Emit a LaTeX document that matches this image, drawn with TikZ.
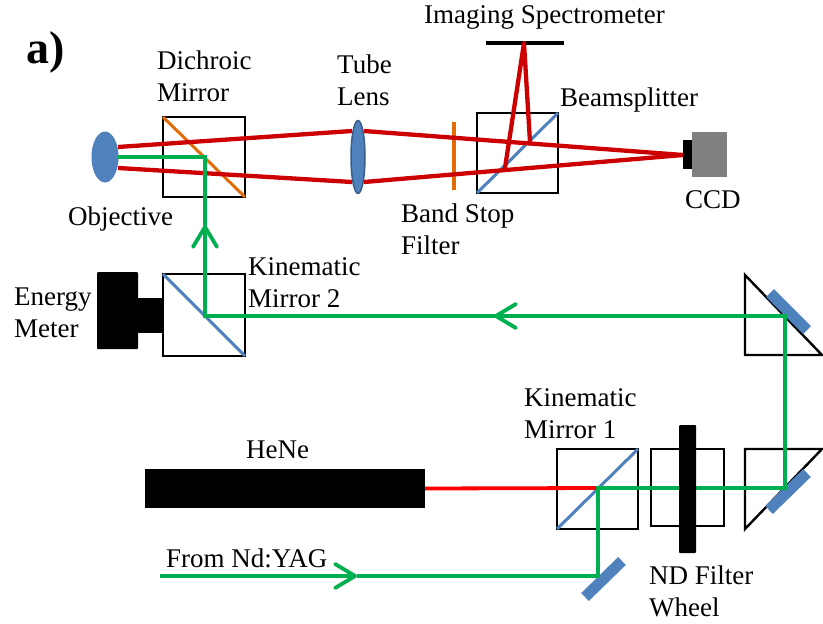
\documentclass[tikz,border=0pt]{standalone}
\usepackage{fontspec}
\setmainfont{Liberation Serif}
\usetikzlibrary{arrows.meta,shapes.geometric}
\definecolor{mirrorblue}{HTML}{4F81BD}
\definecolor{lensblue}{HTML}{385D8A}
\definecolor{filterorange}{HTML}{E36C09}
\definecolor{rayred}{HTML}{CC0000}
\definecolor{rayyag}{HTML}{00B050}
\tikzset{
    opticbox/.style={draw=black,line width=2.4pt,outer sep=0pt,inner sep=0pt},
    solidblock/.style={fill=black,rounded corners=1pt,outer sep=0pt,inner sep=0pt},
    partlabel/.style={anchor=west,align=left,inner sep=0pt,font=\fontsize{27}{32}\selectfont},
    redray/.style={draw=rayred,line width=4.3pt,line join=round},
    greenray/.style={draw=rayyag,line width=3.8pt,line join=miter},
    splitter/.style={draw=mirrorblue,line width=3pt},
    flatmirror/.style={draw=mirrorblue,line width=11pt},
    rayhead/.style={-{Straight Barb[length=20pt,width=24pt,line width=3.8pt,round]}}
}
\begin{document}
\begin{tikzpicture}[x=1pt,y=-1pt]
        \useasboundingbox (0,0) rectangle (823,624);
        \node [opticbox,minimum width=82pt,minimum height=80pt] (dichroic) at (204,157) {};
        \node [opticbox,minimum width=81pt,minimum height=80pt] (beamsplit) at (517.5,153) {};
        \node [opticbox,minimum width=82pt,minimum height=82pt] (kinb) at (204,315) {};
        \node [opticbox,minimum width=81pt,minimum height=80pt] (kina) at (597.5,489) {};
        \node [opticbox,minimum width=73pt,minimum height=77pt] (ndbox) at (687.5,487.5) {};
        \draw [line width=2.4pt,line join=miter] (745,275) -- (822,355) -- (745,355) -- cycle;
        \draw [line width=2.4pt,line join=miter] (745,449) -- (822,449) -- (745,529) -- cycle;
        \draw [draw=filterorange,line width=3pt] (dichroic.north west) -- (dichroic.south east);
        \draw [splitter] (beamsplit.south west) -- (beamsplit.north east);
        \draw [splitter] (kinb.north west) -- (kinb.south east);
        \draw [splitter] (kina.south west) -- (kina.north east);
        \draw [flatmirror] (770,293) -- (807,330);
        \draw [flatmirror] (769,510) -- (807,473);
        \draw [flatmirror] (585,597) -- (622,561);
        \node [ellipse,fill=mirrorblue,inner sep=0pt,outer sep=0pt,minimum width=27pt,minimum height=51pt] (objective) at (105,157) {};
        \node [ellipse,fill=mirrorblue,draw=lensblue,line width=1.5pt,inner sep=0pt,outer sep=0pt,minimum width=14pt,minimum height=73pt] (tubelens) at (358,157) {};
        \node [fill=black,minimum width=78pt,minimum height=4.5pt,inner sep=0pt,outer sep=0pt] (spectro) at (525,43) {};
        \node [fill=black,minimum width=9pt,minimum height=29pt,inner sep=0pt,outer sep=0pt] (ccdfront) at (687.5,154.5) {};
        \node [fill=black!50,minimum width=35pt,minimum height=45pt,inner sep=0pt,outer sep=0pt,anchor=west] (ccd) at (ccdfront.east) {};
        \node [solidblock,minimum width=41pt,minimum height=77pt] (meter) at (117.5,310.5) {};
        \node [fill=black,minimum width=26pt,minimum height=35pt,inner sep=0pt,outer sep=0pt,anchor=east] (meterneck) at (kinb.west) {};
        \node [fill=black,minimum width=280pt,minimum height=39pt,inner sep=0pt,outer sep=0pt] (hene) at (285,488.5) {};
        \draw [draw=filterorange,line width=3.4pt] (454,122) -- (454,190);
        \coordinate (lensup) at (352,131);
        \coordinate (lensupb) at (364,131);
        \coordinate (lensdn) at (352,182);
        \coordinate (lensdnb) at (364,182);
        \coordinate (focus) at (683,155);
        \coordinate (splitup) at (530,142);
        \coordinate (splitdn) at (505,168);
        \coordinate (grating) at (524,43);
        \draw [redray] (118,147) -- (lensup);
        \draw [redray] (118,168) -- (lensdn);
        \draw [redray] (lensupb) -- (focus);
        \draw [redray] (lensdnb) -- (focus);
        \draw [redray] (splitdn) -- (grating) -- (splitup);
        \coordinate (turnkina) at (598,488);
        \coordinate (turnyag) at (598,576);
        \coordinate (startyag) at (160,576);
        \coordinate (midyag) at (357,576);
        \coordinate (turnlow) at (785,488);
        \coordinate (turnhigh) at (785,316);
        \coordinate (midback) at (494,316);
        \coordinate (turnkinb) at (205,316);
        \coordinate (midup) at (205,225);
        \coordinate (turndich) at (205,157);
        \coordinate (objin) at (118,157);
        \draw [draw=red,line width=3.8pt] (hene.east) -- (turnkina);
        \draw [greenray,rayhead] (startyag) -- (midyag);
        \draw [greenray] (midyag) -- (turnyag) -- (turnkina) -- (turnlow) -- (turnhigh) -- (midback);
        \draw [greenray,rayhead] (turnhigh) -- (midback);
        \draw [greenray] (midback) -- (turnkinb) -- (midup);
        \draw [greenray,rayhead] (turnkinb) -- (midup);
        \draw [greenray] (midup) -- (turndich) -- (objin);
        \node [solidblock,minimum width=17pt,minimum height=128pt] (ndwheel) at (687.5,489) {};
        \node [partlabel,font=\fontsize{46}{50}\selectfont\bfseries] (panel) at (26,52) {a)};
        \node [partlabel] (dichroiclabel) at (157,76) {Dichroic\\Mirror};
        \node [partlabel] (tubelabel) at (337,80) {Tube\\Lens};
        \node [partlabel] (spectrolabel) at (424,17) {Imaging Spectrometer};
        \node [partlabel] (splitlabel) at (560,100) {Beamsplitter};
        \node [partlabel] (ccdlabel) at (685,200) {CCD};
        \node [partlabel] (filterlabel) at (401,229) {Band Stop\\Filter};
        \node [partlabel] (objlabel) at (68,219) {Objective};
        \node [partlabel] (kinblabel) at (248,283) {Kinematic\\Mirror 2};
        \node [partlabel] (meterlabel) at (14,313) {Energy\\Meter};
        \node [partlabel] (henelabel) at (246,450) {HeNe};
        \node [partlabel] (kinalabel) at (524,414) {Kinematic\\Mirror 1};
        \node [partlabel] (yaglabel) at (166,558) {From Nd:YAG};
        \node [partlabel] (wheellabel) at (649,591) {ND Filter\\Wheel};
    \end{tikzpicture}
\end{document}
